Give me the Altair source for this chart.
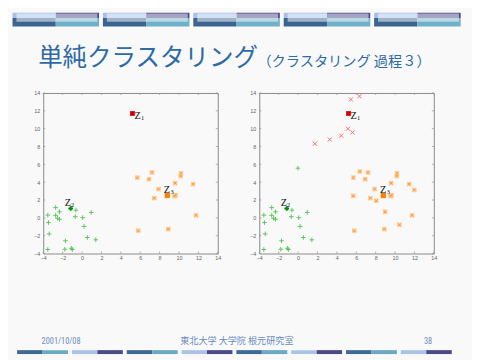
import altair as alt
import pandas as pd

# ---------------- data ----------------
tick_values = [-4, -2, 0, 2, 4, 6, 8, 10, 12, 14]

green_x = [-3.53, -3.46, -3.39, -3.53, -2.72, -2.72, -2.32, -2.52, -2.32, -1.71,
           -1.78, -1.10, -1.00, -0.63, -0.70, 0.07, 0.21, 0.55, 0.95, 1.42]
green_y = [0.31, -0.53, -1.80, -3.55, 1.15, 0.28, 0.68, -0.05, -0.16, -2.57,
           -3.52, -3.41, -3.55, 0.86, 0.13, 0.02, -0.96, -2.20, 0.61, -2.46]
green_extra_x = [-0.01]
green_extra_y = [5.57]

orange_x = [5.70, 7.21, 6.91, 7.89, 7.45, 10.21, 10.18, 9.60, 11.45, 9.54, 9.64, 11.76, 5.80, 8.90]
orange_y = [4.51, 5.09, 4.33, 3.23, 2.21, 4.99, 4.69, 3.89, 3.78, 2.43, 2.54, 0.28, -1.44, -1.26]
orange_extra_x = [6.36, 8.07, 5.69, 11.99, 8.97, 10.45]
orange_extra_y = [5.20, 1.92, 2.47, 3.12, 0.68, -0.78]

red_x = [5.45, 6.33, 5.15, 5.62, 4.45, 3.27, 1.73]
red_y = [13.27, 13.64, 9.99, 9.58, 9.22, 8.78, 8.31]

center_names = ["1", "2", "3"]
center_x = [5.20, -1.17, 8.79]
center_y = [11.70, 1.04, 2.50]

title_main = "単純クラスタリング"
title_sub = "（クラスタリング 過程３）"
footer_date = "2001/10/08"
footer_org = "東北大学 大学院 根元研究室"
footer_page = "38"

# ---------------- layout constants ----------------
W, H = 178.3, 164
OX, OY = 42.7, 90.0      # panel 1 plot origin on the slide
GAP = 41.7
BG = "#f9f9f9"

PLUS = "M-1,0L1,0M0,-1L0,1"
XSH = "M-1,-1L1,1M-1,1L1,-1"

xscale = alt.Scale(domain=[-4, 14], nice=False, zero=False)
yscale = alt.Scale(domain=[-4, 14], nice=False, zero=False)
axis_common = dict(values=tick_values, ticks=False, domain=False, grid=False,
                   labelFontSize=5.5, labelColor="#666", labelFont="Liberation Sans",
                   labelFlush=False, title=None, zindex=1)
xax = alt.Axis(labelPadding=2.5, **axis_common)
yax = alt.Axis(labelPadding=3.5, **axis_common)


def pts(xv, yv):
    return pd.DataFrame({"x": xv, "y": yv})


def enc(ch):
    return ch.encode(x=alt.X("x:Q", scale=xscale, axis=xax),
                     y=alt.Y("y:Q", scale=yscale, axis=yax))


def tick_layers():
    tdf = pd.DataFrame({"t": tick_values})
    c = alt.Chart(tdf).mark_rule(color="#999", strokeWidth=0.8)
    xs = alt.X("t:Q", scale=xscale, axis=xax)
    ys = alt.Y("t:Q", scale=yscale, axis=yax)
    return [
        c.encode(x=xs, y=alt.value(H), y2=alt.value(H - 2)),
        c.encode(x=xs, y=alt.value(0), y2=alt.value(2)),
        c.encode(y=ys, x=alt.value(0), x2=alt.value(2)),
        c.encode(y=ys, x=alt.value(W), x2=alt.value(W - 2)),
    ]


def centers_layers():
    cdf = pd.DataFrame({"x": center_x, "y": center_y, "n": center_names})
    z1 = cdf[cdf.n == "1"]
    z2 = cdf[cdf.n == "2"]
    z3 = cdf[cdf.n == "3"]
    layers = [
        enc(alt.Chart(z1).mark_point(shape="square", filled=True, size=24, color="#ee0000", opacity=1)),
        enc(alt.Chart(z1).mark_point(shape=XSH, size=10, color="#990000", strokeWidth=1, opacity=1)),
        enc(alt.Chart(z2).mark_point(shape=PLUS, size=22, color="#008800", strokeWidth=2, opacity=1)),
        enc(alt.Chart(z3).mark_point(shape="square", filled=True, size=28, color="#ff7f00", opacity=1)),
    ]
    offs = {"1": (2, 5.7, 8.7, 6.5), "2": (-6, -3, 0.2, -2), "3": (-3.5, -2.2, 3.4, -1.5)}
    for n, d in zip(center_names, [z1, z2, z3]):
        zx, zy, sx, sy = offs[n]
        layers.append(enc(alt.Chart(d).mark_text(text="Z", font="Liberation Serif", fontSize=10.5,
                                                 color="#111", align="left", baseline="alphabetic",
                                                 dx=zx, dy=zy)))
        layers.append(enc(alt.Chart(d).mark_text(font="Liberation Serif", fontSize=6.5,
                                                 color="#111", align="left", baseline="alphabetic",
                                                 dx=sx, dy=sy)).encode(text="n:N"))
    return layers


def panel(gx, gy, ox, oy, rx=None, ry=None, extra=None):
    layers = list(extra or [])
    layers += tick_layers()
    layers.append(enc(alt.Chart(pts(gx, gy)).mark_point(shape=PLUS, size=22, color="#5cc65c",
                                                         strokeWidth=1, opacity=1)))
    layers.append(enc(alt.Chart(pts(ox, oy)).mark_point(shape="square", filled=True, size=22,
                                                         color="#ffcf9f", opacity=1)))
    layers.append(enc(alt.Chart(pts(ox, oy)).mark_point(shape=XSH, size=7, color="#ff9933",
                                                         strokeWidth=1, opacity=1)))
    if rx is not None:
        layers.append(enc(alt.Chart(pts(rx, ry)).mark_point(shape=XSH, size=18, color="#ff6a6a",
                                                             strokeWidth=1, opacity=1)))
    layers += centers_layers()
    return alt.layer(*layers).properties(width=W, height=H)


# ---------------- slide decoration (in panel-1 pixel coords) ----------------
HT = 8.0  # top of visible page area
rows = []
for i in range(5):
    x0 = 11.3 + i * 92.35
    x1 = x0 + 88.4
    xm = (x0 + x1) / 2
    rows += [(x0, xm, HT, 13.5, "#a8c0e8"), (xm, x1, HT, 13.5, "#4a4888"),
             (x0, xm, 13.5, 22, "#3c6490"), (xm, x1, 13.5, 22, "#70b0c8")]
for i in range(8):
    x0 = 16 + i * 56
    xm = x0 + 26
    x1 = x0 + 52
    if i % 2 == 0:
        rows += [(x0, xm, 352.7, 356.7, "#3d6a96"), (xm, x1, 352.7, 356.7, "#6aaac6")]
    else:
        rows += [(x0, xm, 352.7, 356.7, "#aac4e8"), (xm, x1, 352.7, 356.7, "#4a4a8a")]
decor = pd.DataFrame(rows, columns=["a", "b", "c", "d", "fill"])
decor["px0"] = decor.a - OX
decor["px1"] = decor.b - OX
decor["py0"] = decor.c - OY
decor["py1"] = decor.d - OY

stripes = pd.DataFrame({"a": [11.3 + i * 92.35 + 4 for i in range(5)]})
stripes["px0"] = stripes.a - OX
stripes["px1"] = stripes.a + 82.7 - OX
stripes["py0"] = HT + 0.7 - OY
stripes["py1"] = 17.3 - OY

bounds_df = pd.DataFrame({"px0": [8 - OX], "px1": [480 - OX], "py0": [8 - OY], "py1": [360 - OY]})


def rect_enc(ch):
    return ch.encode(x=alt.X("px0:Q", scale=None, axis=None), x2="px1:Q",
                     y=alt.Y("py0:Q", scale=None, axis=None), y2="py1:Q")


bounds_layer = rect_enc(alt.Chart(bounds_df).mark_rect(opacity=0, color=BG))
decor_layer = rect_enc(alt.Chart(decor).mark_rect()).encode(color=alt.Color("fill:N", scale=None))
stripe_layer = rect_enc(alt.Chart(stripes).mark_rect(color="white", opacity=0.5))

NARROW = "Liberation Sans Narrow, Roboto Condensed, DejaVu Sans Condensed, Liberation Sans, sans-serif"


def txt(s, x, y, size, color, align="left", font="Noto Sans CJK JP", stretch=None):
    return alt.Chart(pd.DataFrame({"t": [s]})).mark_text(
        fontSize=size, color=color, align=align, baseline="alphabetic", font=font
    ).encode(text="t:N", x=alt.value(x - OX), y=alt.value(y - OY))


text_layers = [
    txt(title_main, 37.5, 62.5, 25, "#2e6aa6"),
    txt(title_sub, 261.5, 62.5, 14.5, "#2e6aa6"),
    txt(footer_date, 41, 346, 8.5, "#6a8cc0", font=NARROW),
    txt(footer_org, 240.5, 346, 9.3, "#6a8cc0", align="center"),
    txt(footer_page, 440, 346, 8.5, "#6a8cc0", align="right", font=NARROW),
]

p1 = panel(green_x, green_y, orange_x, orange_y,
           extra=[bounds_layer, decor_layer, stripe_layer] + text_layers)
p2 = panel(green_x + green_extra_x, green_y + green_extra_y,
           orange_x + orange_extra_x, orange_y + orange_extra_y,
           rx=red_x, ry=red_y)

chart = alt.hconcat(p1, p2, spacing=GAP, bounds="flush").properties(
    padding=0, background=BG
).configure_view(stroke="#888", strokeWidth=1)

chart.save("out.html", embed_options={"renderer": "svg", "actions": False})
